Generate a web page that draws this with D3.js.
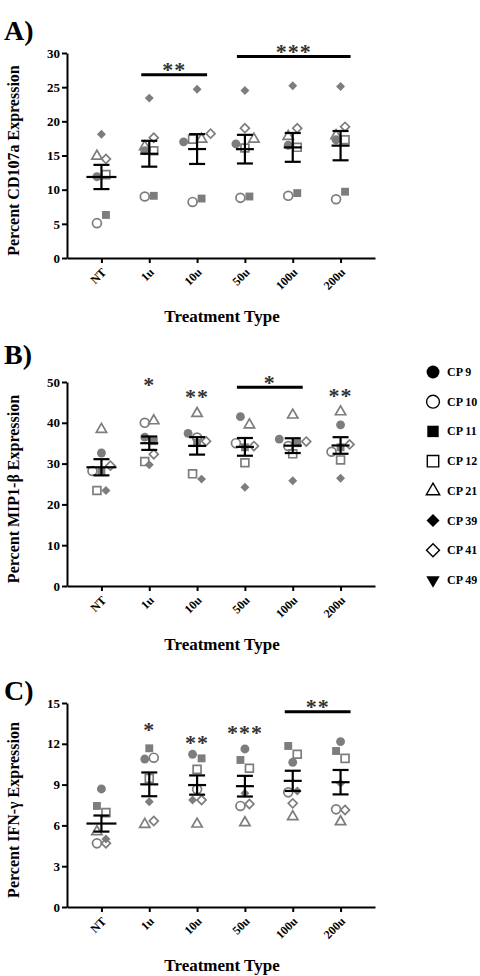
<!DOCTYPE html>
<html lang="en">
<head>
  <meta charset="utf-8">
  <title>Expression by treatment type</title>
  <script src="https://cdnjs.cloudflare.com/ajax/libs/d3/7.8.5/d3.min.js"></script>
</head>
<style>
  body { margin: 0; background: #fff; }
  text { font-family: "Liberation Serif", "Times New Roman", serif; font-weight: bold; }
</style>
<body>
  <div class="chart"></div>
</body>
<script>
// categories and donors
var groups = ["NT", "1u", "10u", "50u", "100u", "200u"];
var donors = ["CP 9", "CP 10", "CP 11", "CP 12", "CP 21", "CP 39", "CP 41"];
var legendDonors = ["CP 9", "CP 10", "CP 11", "CP 12", "CP 21", "CP 39", "CP 41", "CP 49"];

// one row per donor, one value per group (percent)
var cd107a = [
  [11.9, 15.7, 17.0, 16.7, 16.5, 17.3],
  [5.1, 9.0, 8.2, 8.8, 9.1, 8.6],
  [6.3, 9.1, 8.7, 9.0, 9.5, 9.7],
  [12.2, 15.7, 17.4, 16.1, 16.2, 17.3],
  [14.9, 16.3, 17.4, 17.4, 17.8, 17.9],
  [18.1, 23.4, 24.7, 24.5, 25.2, 25.1],
  [14.5, 17.6, 18.2, 19.0, 19.0, 19.2]
];
var mip1b = [
  [32.6, 36.5, 37.4, 41.5, 36.0, 39.5],
  [28.2, 40.0, 36.4, 35.0, 34.3, 32.9],
  [28.2, 35.5, 35.1, 34.0, 35.0, 34.0],
  [23.4, 30.5, 27.5, 30.2, 32.4, 30.9],
  [38.4, 40.5, 42.3, 39.5, 41.9, 42.7],
  [23.4, 29.7, 26.2, 24.2, 25.8, 26.4],
  [29.5, 32.3, 35.5, 34.3, 35.4, 34.7]
];
var ifng = [
  [8.68, 10.88, 11.23, 11.62, 10.64, 12.16],
  [4.68, 10.98, 8.65, 7.43, 8.43, 7.18],
  [7.43, 11.67, 10.93, 10.81, 11.84, 11.47],
  [6.94, 9.46, 10.12, 10.2, 11.23, 10.93],
  [5.54, 6.08, 6.1, 6.2, 6.64, 6.27],
  [5.0, 7.74, 7.87, 8.36, 8.53, 9.1],
  [4.68, 6.32, 7.87, 7.57, 7.62, 7.13]
];

// tick labels
var cd107aTicks = [0, 5, 10, 15, 20, 25, 30];
var mip1bTicks = [0, 10, 20, 30, 40, 50];
var ifngTicks = [0, 3, 6, 9, 12, 15];

// significance: [group, level, stars] and [from, to, level, stars]
var cd107aStars = [];
var cd107aBars = [["1u", "10u", 26.8, "**"], ["50u", "200u", 29.5, "***"]];
var mip1bStars = [["1u", 50.1, "*"], ["10u", 47.3, "**"], ["200u", 47.4, "**"]];
var mip1bBars = [["50u", "100u", 48.7, "*"]];
var ifngStars = [["1u", 13.26, "*"], ["10u", 12.33, "**"], ["50u", 13.07, "***"]];
var ifngBars = [["100u", "200u", 14.36, "**"]];

// marker style per donor
var markerShape = ["circle", "circle", "square", "square", "triangle", "diamond", "diamond", "invtriangle"];
var markerFilled = [true, false, true, false, false, true, false, true];
var gray = "#7d7d7d";

var svg = d3.select(".chart")
  .append("svg")
  .attr("width", 480)
  .attr("height", 976);

var x = d3.scalePoint().domain(groups).range([67, 375]).padding(0.72);

function shapePath(shape, k) {
  if (shape == "circle") return d3.symbol(d3.symbolCircle, 62 * k * k)();
  if (shape == "square") return d3.symbol(d3.symbolSquare, 62 * k * k)();
  if (shape == "triangle" || shape == "invtriangle") return d3.symbol(d3.symbolTriangle, 46 * k * k)();
  return d3.symbol(d3.symbolSquare, 40 * k * k)();
}
function shapeRotate(shape) {
  if (shape == "diamond") return " rotate(45)";
  if (shape == "invtriangle") return " rotate(180)";
  return "";
}

var panels = [
  {label: "A)", labelY: 40, title: "Percent CD107a Expression", values: cd107a, ticks: cd107aTicks,
   stars: cd107aStars, bars: cd107aBars, top: 53, bottom: 258},
  {label: "B)", labelY: 364, title: "Percent MIP1-\u03b2 Expression", values: mip1b, ticks: mip1bTicks,
   stars: mip1bStars, bars: mip1bBars, top: 382, bottom: 586},
  {label: "C)", labelY: 700, title: "Percent IFN-\u03b3 Expression", values: ifng, ticks: ifngTicks,
   stars: ifngStars, bars: ifngBars, top: 703, bottom: 907}
];

panels.forEach(function(p) {
  var y = d3.scaleLinear()
    .domain([0, d3.max(p.ticks)])
    .range([p.bottom, p.top]);

  var g = svg.append("g");

  // panel letter
  g.append("text")
    .attr("x", 4)
    .attr("y", p.labelY)
    .style("font-size", "28px")
    .text(p.label);

  // y axis
  var yAxis = g.append("g")
    .attr("transform", "translate(67,0)")
    .call(d3.axisLeft(y).tickValues(p.ticks).tickSize(5).tickSizeOuter(0).tickPadding(2));
  yAxis.selectAll("path, line").attr("stroke-width", 2);
  yAxis.selectAll("text")
    .attr("font-family", null)
    .style("font-size", "13px");

  // x axis
  var xAxis = g.append("g")
    .attr("transform", "translate(0," + p.bottom + ")")
    .call(d3.axisBottom(x).tickSize(5).tickSizeOuter(0));
  xAxis.selectAll("path, line").attr("stroke-width", 2);
  xAxis.selectAll("text")
    .attr("font-family", null)
    .style("font-size", "12px")
    .style("text-anchor", "end")
    .attr("dy", null)
    .attr("y", null)
    .attr("transform", "translate(5,15) rotate(-45)");

  // axis titles
  g.append("text")
    .attr("transform", "translate(222," + (p.bottom + 64) + ")")
    .style("text-anchor", "middle")
    .style("font-size", "17px")
    .text("Treatment Type");

  g.append("text")
    .attr("transform", "translate(19," + ((p.top + p.bottom) / 2 + 5) + ") rotate(-90)")
    .style("text-anchor", "middle")
    .style("font-size", "16px")
    .text(p.title);

  // scatter points, spread sideways in rows like a column scatter
  groups.forEach(function(grp, gi) {
    var pts = donors.map(function(dn, di) {
      return {di: di, v: p.values[di][gi], py: y(p.values[di][gi])};
    });
    var sorted = pts.slice().sort(function(a, b) { return a.py - b.py; });
    var rows = [];
    sorted.forEach(function(pt) {
      var row = rows[rows.length - 1];
      if (row && Math.abs(pt.py - row[0].py) < 9) row.push(pt);
      else rows.push([pt]);
    });
    rows.forEach(function(row) {
      row.sort(function(a, b) { return a.di - b.di; });
      row.forEach(function(pt, k) {
        pt.px = x(grp) + (k - (row.length - 1) / 2) * 9;
      });
    });

    g.selectAll(".pt-" + gi)
      .data(pts)
      .enter().append("path")
      .attr("class", "pt-" + gi)
      .attr("d", function(d) { return shapePath(markerShape[d.di], 1); })
      .attr("transform", function(d) {
        return "translate(" + d.px + "," + d.py + ")" + shapeRotate(markerShape[d.di]);
      })
      .attr("fill", function(d) { return markerFilled[d.di] ? gray : "#fff"; })
      .attr("fill-opacity", function(d) { return markerFilled[d.di] ? 1 : 0; })
      .attr("stroke", gray)
      .attr("stroke-width", function(d) { return markerFilled[d.di] ? 0 : 1.7; });

    // mean and SEM
    var vals = pts.map(function(d) { return d.v; });
    var mean = d3.mean(vals);
    var sem = d3.deviation(vals) / Math.sqrt(vals.length);
    var cx = x(grp);
    var mw = gi == 0 ? 15 : 9;
    var eg = g.append("g").attr("stroke", "#000").attr("stroke-width", 2.2);
    eg.append("line").attr("x1", cx - mw).attr("x2", cx + mw).attr("y1", y(mean)).attr("y2", y(mean));
    eg.append("line").attr("x1", cx).attr("x2", cx).attr("y1", y(mean - sem)).attr("y2", y(mean + sem));
    eg.append("line").attr("x1", cx - 8).attr("x2", cx + 8).attr("y1", y(mean - sem)).attr("y2", y(mean - sem));
    eg.append("line").attr("x1", cx - 8).attr("x2", cx + 8).attr("y1", y(mean + sem)).attr("y2", y(mean + sem));
  });

  // significance marks
  p.stars.forEach(function(s) {
    g.append("text")
      .attr("x", x(s[0]))
      .attr("y", y(s[1]) + 10.5)
      .style("text-anchor", "middle")
      .style("font-size", "22px")
      .style("letter-spacing", "1px")
      .attr("fill", "#333")
      .text(s[2]);
  });
  p.bars.forEach(function(b) {
    var x1 = x(b[0]) - 8, x2 = x(b[1]) + 10;
    g.append("line")
      .attr("x1", x1).attr("x2", x2)
      .attr("y1", y(b[2])).attr("y2", y(b[2]))
      .attr("stroke", "#000")
      .attr("stroke-width", 3);
    g.append("text")
      .attr("x", (x1 + x2) / 2)
      .attr("y", y(b[2]) + 2.5)
      .style("text-anchor", "middle")
      .style("font-size", "22px")
      .style("letter-spacing", "1px")
      .attr("fill", "#333")
      .text(b[3]);
  });
});

// legend
var ly = d3.scalePoint().domain(legendDonors).range([372, 580]);
var legend = svg.append("g");
legendDonors.forEach(function(name, i) {
  var shape = markerShape[i];
  var k = (shape == "triangle" || shape == "invtriangle") ? 1.3 : 1.45;
  legend.append("path")
    .attr("d", shapePath(shape, k))
    .attr("transform", "translate(433," + ly(name) + ")" + shapeRotate(shape))
    .attr("fill", markerFilled[i] ? "#000" : "none")
    .attr("stroke", "#000")
    .attr("stroke-width", markerFilled[i] ? 0 : 1.4);
  legend.append("text")
    .attr("x", 447)
    .attr("y", ly(name) + 4)
    .style("font-size", "12px")
    .text(name);
});
</script>
</html>
